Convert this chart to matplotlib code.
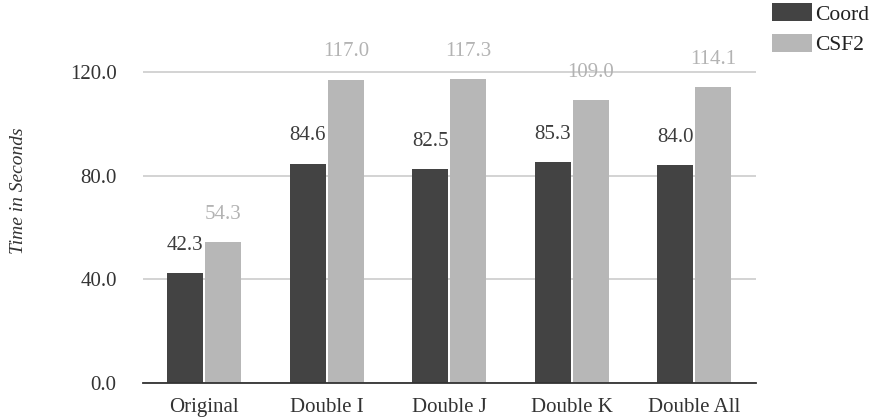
import numpy as np
import matplotlib
matplotlib.use('Agg')
import matplotlib.pyplot as plt

plt.rcParams['font.family'] = ['Liberation Serif', 'DejaVu Serif']

# 各测试用例的运行时间（秒）
categories = ['Original', 'Double I', 'Double J', 'Double K', 'Double All']
coord_times = [42.3, 84.6, 82.5, 85.3, 84.0]
csf2_times = [54.3, 117.0, 117.3, 109.0, 114.1]
y_ticks = [0, 40, 80, 120]

DARK = '#434343'
LIGHT = '#b7b7b7'

fig = plt.figure(figsize=(8.69, 4.18), dpi=100)
ax = fig.add_axes([0.1646, 0.0837, 0.705, 0.8373])

x = np.arange(len(categories))
w = 0.294
off = 0.155
b1 = ax.bar(x - off, coord_times, w, color=DARK, label='Coord', zorder=3)
b2 = ax.bar(x + off, csf2_times, w, color=LIGHT, label='CSF2', zorder=3)

# 柱顶数值
for bars, vals, c in [(b1, coord_times, '#3c3c3c'), (b2, csf2_times, '#b3b3b3')]:
    for rect, v in zip(bars, vals):
        ax.annotate(f'{v:.1f}', (rect.get_x() + rect.get_width() / 2, v),
                    xytext=(0, 20), textcoords='offset points',
                    ha='center', va='center', fontsize=15, color=c)

ax.set_xlim(-0.5, len(categories) - 0.5)
ax.set_ylim(0, 135)
ax.set_yticks(y_ticks)
ax.set_yticklabels([f'{t:.1f}' for t in y_ticks])
ax.set_xticks(x)
ax.set_xticklabels(categories)
ax.tick_params(axis='both', length=0, labelsize=15, colors='#333333')
ax.tick_params(axis='y', pad=19)
ax.tick_params(axis='x', pad=11)

ax.yaxis.grid(True, color='#cccccc', linewidth=1.2, zorder=0)
for s in ['top', 'right', 'left']:
    ax.spines[s].set_visible(False)
ax.spines['bottom'].set_color('#333333')
ax.spines['bottom'].set_linewidth(1.3)
ax.spines['bottom'].set_zorder(4)

fig.text(0.021, 0.545, 'Time in Seconds', rotation=90, style='italic',
         fontsize=14, color='#333333', ha='center', va='center')

fig.legend(handles=[b1, b2], loc='upper right', bbox_to_anchor=(1.004, 1.0),
           frameon=False, fontsize=15.5, handlelength=1.85, handleheight=0.92,
           handletextpad=0.15, labelspacing=0.42, borderpad=0.1,
           borderaxespad=0.05, labelcolor='#222222')

plt.savefig('out.png', dpi=100)
